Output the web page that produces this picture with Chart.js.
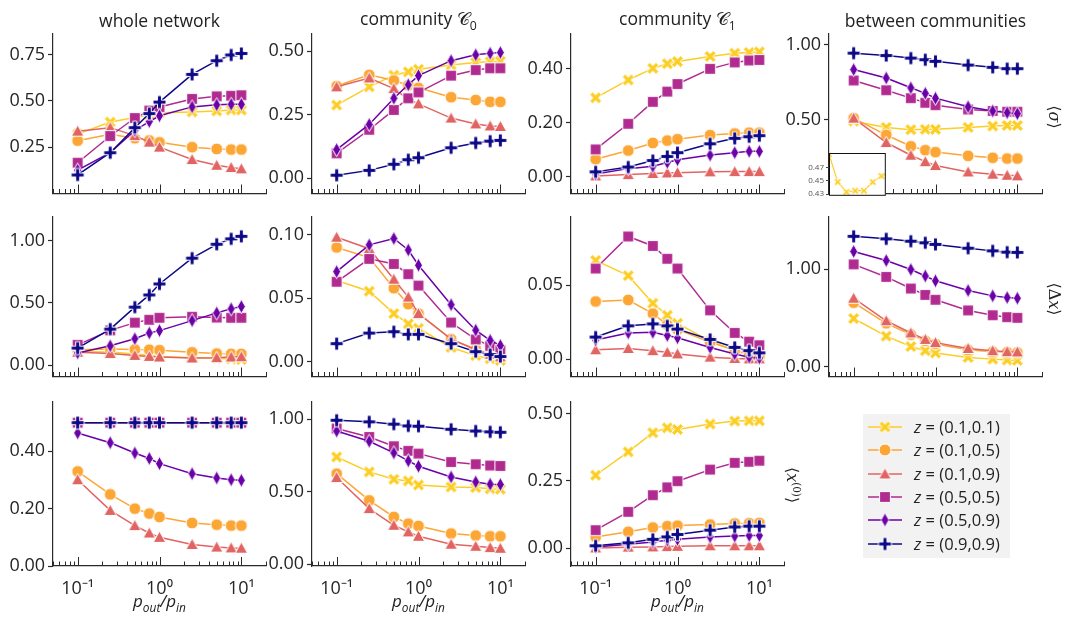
<!DOCTYPE html>
<html>
<head>
<meta charset="utf-8">
<script src="https://cdn.jsdelivr.net/npm/chart.js@4"></script>
<style>
  body { margin: 0; background: #fff; }
  #fig { position: relative; width: 1067px; height: 617px; overflow: hidden; font-family: 'Open Sans', sans-serif; color: #222; }
  #fig canvas { position: absolute; }
  .txt { position: absolute; white-space: nowrap; transform: translate(-50%, -50%); line-height: 1; }
  .title { font-size: 17.5px; }
  .xlab { font-size: 17px; font-style: italic; }
  .xlab sub { font-size: 70%; }
  .ylab { font-family: 'DejaVu Serif', serif; font-size: 16px; transform: translate(-50%, -50%) rotate(90deg); }
  .ylab sup { font-size: 65%; }
  .cal { font-family: 'DejaVu Sans', serif; }
  .title sub { font-size: 70%; }
  #legend { position: absolute; left: 863px; top: 414px; width: 147px; height: 144px; background: #f2f2f2; }
  #legend .row { position: absolute; left: 0; height: 20px; width: 147px; }
  #legend .row canvas { position: absolute; left: 5px; top: 0; }
  #legend .row span { position: absolute; left: 51px; top: 0; font-size: 16.5px; line-height: 20px; white-space: nowrap; }
</style>
</head>
<body>
<div id="fig"></div>
<script>
// x values (p_out / p_in) shared by every panel
const X = [0.1, 0.25, 0.5, 0.75, 1, 2.5, 5, 7.5, 10];

const seriesLabels = ['(0.1,0.1)', '(0.1,0.5)', '(0.1,0.9)', '(0.5,0.5)', '(0.5,0.9)', '(0.9,0.9)'];
const seriesColors = ['#fcce25', '#fca636', '#e16462', '#b12a90', '#6a00a8', '#0d0887'];
const seriesMarkers = ['x', 'o', '^', 's', 'd', 'P'];

const xMajor = [0.1, 1, 10];
const xTickLabels = ['10⁻¹', '10⁰', '10¹'];

// <sigma>
const sigmaWhole = [
  [0.32, 0.385, 0.41, 0.425, 0.435, 0.44, 0.445, 0.45, 0.45],
  [0.285, 0.32, 0.298, 0.286, 0.276, 0.25, 0.24, 0.237, 0.237],
  [0.336, 0.355, 0.312, 0.277, 0.25, 0.183, 0.152, 0.14, 0.133],
  [0.166, 0.31, 0.407, 0.447, 0.466, 0.51, 0.524, 0.527, 0.53],
  [0.126, 0.22, 0.34, 0.388, 0.419, 0.467, 0.478, 0.481, 0.481],
  [0.10, 0.22, 0.355, 0.431, 0.493, 0.642, 0.716, 0.747, 0.755]
];
const sigmaC0 = [
  [0.287, 0.359, 0.405, 0.418, 0.428, 0.445, 0.455, 0.458, 0.46],
  [0.362, 0.406, 0.384, 0.365, 0.355, 0.318, 0.307, 0.30, 0.30],
  [0.359, 0.394, 0.352, 0.31, 0.292, 0.236, 0.213, 0.205, 0.203],
  [0.097, 0.19, 0.268, 0.314, 0.337, 0.403, 0.425, 0.432, 0.432],
  [0.112, 0.211, 0.314, 0.367, 0.403, 0.462, 0.485, 0.491, 0.494],
  [0.011, 0.03, 0.054, 0.072, 0.08, 0.119, 0.138, 0.145, 0.148]
];
const sigmaC1 = [
  [0.292, 0.358, 0.401, 0.418, 0.426, 0.445, 0.457, 0.46, 0.462],
  [0.065, 0.097, 0.125, 0.134, 0.139, 0.154, 0.16, 0.163, 0.163],
  [0.003, 0.008, 0.012, 0.014, 0.015, 0.018, 0.019, 0.019, 0.019],
  [0.101, 0.196, 0.277, 0.315, 0.343, 0.399, 0.423, 0.43, 0.432],
  [0.01, 0.03, 0.039, 0.053, 0.063, 0.08, 0.089, 0.094, 0.094],
  [0.018, 0.036, 0.06, 0.075, 0.089, 0.122, 0.142, 0.148, 0.152]
];
const sigmaBetween = [
  [0.49, 0.448, 0.433, 0.435, 0.435, 0.448, 0.457, 0.461, 0.461],
  [0.51, 0.397, 0.322, 0.296, 0.283, 0.258, 0.245, 0.24, 0.24],
  [0.51, 0.347, 0.262, 0.219, 0.193, 0.15, 0.135, 0.128, 0.124],
  [0.762, 0.697, 0.644, 0.613, 0.597, 0.568, 0.558, 0.553, 0.553],
  [0.835, 0.779, 0.713, 0.676, 0.644, 0.586, 0.558, 0.547, 0.54],
  [0.945, 0.929, 0.912, 0.901, 0.89, 0.865, 0.85, 0.841, 0.841]
];

// <delta x>
const dxWhole = [
  [0.11, 0.105, 0.09, 0.08, 0.07, 0.06, 0.055, 0.05, 0.045],
  [0.124, 0.13, 0.126, 0.124, 0.12, 0.103, 0.093, 0.09, 0.09],
  [0.103, 0.093, 0.078, 0.07, 0.065, 0.057, 0.06, 0.065, 0.067],
  [0.163, 0.279, 0.341, 0.364, 0.38, 0.388, 0.382, 0.38, 0.38],
  [0.098, 0.155, 0.212, 0.258, 0.277, 0.357, 0.419, 0.452, 0.47],
  [0.137, 0.289, 0.465, 0.563, 0.651, 0.858, 0.969, 1.013, 1.033]
];
const dxC0 = [
  [0.064, 0.0556, 0.038, 0.03, 0.0265, 0.0114, 0.005, 0.0025, 0.0012],
  [0.09, 0.082, 0.058, 0.0455, 0.038, 0.018, 0.01, 0.006, 0.005],
  [0.098, 0.089, 0.065, 0.051, 0.038, 0.018, 0.0096, 0.006, 0.004],
  [0.063, 0.081, 0.077, 0.069, 0.06, 0.031, 0.0177, 0.0127, 0.0094],
  [0.071, 0.092, 0.097, 0.088, 0.076, 0.045, 0.025, 0.017, 0.013],
  [0.0144, 0.0227, 0.0238, 0.0217, 0.0217, 0.0144, 0.0081, 0.0058, 0.0043]
];
const dxC1 = [
  [0.0668, 0.0565, 0.0378, 0.0297, 0.0242, 0.0122, 0.0057, 0.003, 0.0013],
  [0.039, 0.04, 0.0308, 0.0232, 0.02, 0.0115, 0.006, 0.003, 0.002],
  [0.0063, 0.0072, 0.0057, 0.0046, 0.0035, 0.0013, 0.0004, 0.0001, 0.0001],
  [0.0613, 0.083, 0.0766, 0.0679, 0.0613, 0.033, 0.0177, 0.0118, 0.0094],
  [0.0129, 0.0177, 0.0181, 0.016, 0.0144, 0.0079, 0.0035, 0.0013, 0.0007],
  [0.0149, 0.0225, 0.0238, 0.0225, 0.0203, 0.0133, 0.0079, 0.0057, 0.0042]
];
const dxBetween = [
  [0.495, 0.314, 0.208, 0.165, 0.142, 0.096, 0.079, 0.069, 0.066],
  [0.657, 0.446, 0.33, 0.267, 0.234, 0.175, 0.155, 0.149, 0.146],
  [0.703, 0.472, 0.347, 0.281, 0.248, 0.188, 0.165, 0.155, 0.152],
  [1.05, 0.921, 0.802, 0.737, 0.687, 0.578, 0.529, 0.509, 0.502],
  [1.182, 1.089, 0.997, 0.931, 0.881, 0.782, 0.727, 0.71, 0.703],
  [1.337, 1.311, 1.287, 1.271, 1.254, 1.215, 1.188, 1.175, 1.172]
];

// <x^(0)>
const x0Whole = [
  [0.5, 0.5, 0.5, 0.5, 0.5, 0.5, 0.5, 0.5, 0.5],
  [0.33, 0.25, 0.2, 0.183, 0.171, 0.15, 0.144, 0.141, 0.141],
  [0.301, 0.194, 0.141, 0.115, 0.1, 0.075, 0.066, 0.063, 0.062],
  [0.5, 0.5, 0.5, 0.5, 0.5, 0.5, 0.5, 0.5, 0.5],
  [0.464, 0.43, 0.394, 0.375, 0.357, 0.322, 0.307, 0.301, 0.299],
  [0.5, 0.5, 0.5, 0.5, 0.5, 0.5, 0.5, 0.5, 0.5]
];
const x0C0 = [
  [0.74, 0.637, 0.586, 0.575, 0.547, 0.533, 0.529, 0.52, 0.517],
  [0.625, 0.441, 0.326, 0.28, 0.264, 0.212, 0.198, 0.193, 0.193],
  [0.598, 0.384, 0.269, 0.223, 0.193, 0.138, 0.124, 0.115, 0.11],
  [0.936, 0.878, 0.814, 0.782, 0.763, 0.705, 0.69, 0.681, 0.678],
  [0.919, 0.848, 0.768, 0.713, 0.676, 0.602, 0.568, 0.552, 0.55],
  [0.993, 0.982, 0.966, 0.954, 0.952, 0.931, 0.919, 0.913, 0.91]
];
const x0C1 = [
  [0.271, 0.358, 0.429, 0.447, 0.441, 0.461, 0.472, 0.473, 0.473],
  [0.042, 0.061, 0.077, 0.082, 0.084, 0.088, 0.092, 0.093, 0.094],
  [0.001, 0.004, 0.005, 0.006, 0.007, 0.009, 0.009, 0.009, 0.009],
  [0.067, 0.135, 0.197, 0.226, 0.249, 0.292, 0.317, 0.321, 0.325],
  [0.005, 0.015, 0.023, 0.03, 0.033, 0.042, 0.045, 0.047, 0.047],
  [0.009, 0.02, 0.033, 0.042, 0.051, 0.067, 0.079, 0.082, 0.082]
];

// y tick values per panel
const ticksSigmaWhole = [0.25, 0.5, 0.75];
const ticksSigmaC0 = [0, 0.25, 0.5];
const ticksSigmaC1 = [0, 0.2, 0.4];
const ticksSigmaBetween = [0.5, 1];
const ticksDxWhole = [0, 0.5, 1];
const ticksDxC0 = [0, 0.05, 0.1];
const ticksDxC1 = [0, 0.05];
const ticksDxBetween = [0, 1];
const ticksX0Whole = [0, 0.2, 0.4];
const ticksX0C0 = [0, 0.5, 1];
const ticksX0C1 = [0, 0.25, 0.5];
const ticksInset = [0.43, 0.45, 0.47];

// layout (pixels)
const colLeft = [53, 312, 571, 829];
const rowTop = [34, 217, 402];
const rowH = [165, 165, 164];
const xAxisH = [2, 2, 34];
const PLOT_W = 213, Y_W = 53, PAD_T = 10, PAD_R = 14;
const AX = '#2a2a2a', TXT = '#262626';

Chart.defaults.font.family = "'Open Sans', sans-serif";

const fig = document.getElementById('fig');

function marker(shape, color, s) {
  const size = Math.ceil(s + 4);
  const c = document.createElement('canvas');
  c.width = c.height = size;
  const g = c.getContext('2d');
  const m = size / 2, r = s / 2;
  g.beginPath();
  if (shape === 'o') {
    g.arc(m, m, r, 0, 2 * Math.PI);
  } else if (shape === 's') {
    g.rect(m - r * 0.9, m - r * 0.9, 1.8 * r, 1.8 * r);
  } else if (shape === '^') {
    g.moveTo(m, m - r); g.lineTo(m + r, m + r * 0.8); g.lineTo(m - r, m + r * 0.8); g.closePath();
  } else if (shape === 'd') {
    g.moveTo(m, m - r * 1.1); g.lineTo(m + r * 0.62, m); g.lineTo(m, m + r * 1.1); g.lineTo(m - r * 0.62, m); g.closePath();
  } else {
    const t = r * 0.3;
    const pts = [[-t,-r],[t,-r],[t,-t],[r,-t],[r,t],[t,t],[t,r],[-t,r],[-t,t],[-r,t],[-r,-t],[-t,-t]];
    const a = shape === 'x' ? Math.PI / 4 : 0;
    pts.forEach(([px, py], i) => {
      const x = m + px * Math.cos(a) - py * Math.sin(a);
      const y = m + px * Math.sin(a) + py * Math.cos(a);
      i ? g.lineTo(x, y) : g.moveTo(x, y);
    });
    g.closePath();
  }
  g.fillStyle = color; g.fill();
  g.lineWidth = 1; g.strokeStyle = '#fff'; g.stroke();
  return c;
}

const markerSize = {x: 13, o: 12, '^': 12.5, s: 12, d: 13, P: 13};
const markerImgs = seriesMarkers.map((m, i) => marker(m, seriesColors[i], markerSize[m]));

// log-scale minor tick positions between 0.05 and 20
const xTickPos = [];
[-2, -1, 0, 1].forEach(e => {
  for (let k = 1; k <= 9; k++) {
    const v = parseFloat((k * Math.pow(10, e)).toPrecision(3));
    if (v >= 0.05 && v <= 20) xTickPos.push(v);
  }
});

// ticks pointing into the plot on the bottom axis
const inTicks = {
  id: 'inTicks',
  afterDraw(chart) {
    const s = chart.scales.x, ctx = chart.ctx, b = chart.chartArea.bottom;
    ctx.save();
    ctx.strokeStyle = AX; ctx.lineWidth = 1;
    xTickPos.forEach(v => {
      const px = Math.round(s.getPixelForValue(v)) + 0.5;
      const len = xMajor.includes(v) ? 9 : 4.5;
      ctx.beginPath(); ctx.moveTo(px, b); ctx.lineTo(px, b - len); ctx.stroke();
    });
    ctx.restore();
  }
};

function zeroPad(s) { s.paddingLeft = s.paddingRight = s.paddingTop = s.paddingBottom = 0; }

const panels = [
  {vals: sigmaWhole, r: 0, c: 0, min: 0, max: 0.86, ticks: ticksSigmaWhole},
  {vals: sigmaC0, r: 0, c: 1, min: -0.061, max: 0.567, ticks: ticksSigmaC0},
  {vals: sigmaC1, r: 0, c: 2, min: -0.062, max: 0.528, ticks: ticksSigmaC1},
  {vals: sigmaBetween, r: 0, c: 3, min: 0.006, max: 1.073, ticks: ticksSigmaBetween},
  {vals: dxWhole, r: 1, c: 0, min: -0.091, max: 1.188, ticks: ticksDxWhole},
  {vals: dxC0, r: 1, c: 1, min: -0.0114, max: 0.1139, ticks: ticksDxC0},
  {vals: dxC1, r: 1, c: 2, min: -0.0118, max: 0.0962, ticks: ticksDxC1},
  {vals: dxBetween, r: 1, c: 3, min: -0.099, max: 1.535, ticks: ticksDxBetween},
  {vals: x0Whole, r: 2, c: 0, min: 0, max: 0.572, ticks: ticksX0Whole},
  {vals: x0C0, r: 2, c: 1, min: -0.012, max: 1.119, ticks: ticksX0C0},
  {vals: x0C1, r: 2, c: 2, min: -0.066, max: 0.543, ticks: ticksX0C1}
];

function makePanel(p) {
  const cv = document.createElement('canvas');
  cv.width = Y_W + PLOT_W + PAD_R;
  cv.height = PAD_T + rowH[p.r] + xAxisH[p.r];
  cv.style.left = (colLeft[p.c] - Y_W) + 'px';
  cv.style.top = (rowTop[p.r] - PAD_T) + 'px';
  fig.appendChild(cv);

  const datasets = p.vals.map((vals, i) => ({
    label: 'z = ' + seriesLabels[i],
    data: vals.map((v, k) => ({x: X[k], y: v})),
    borderColor: seriesColors[i],
    backgroundColor: seriesColors[i],
    borderWidth: 1.5,
    pointStyle: markerImgs[i],
    pointRadius: 6,
    order: 5 - i,
    clip: false
  }));

  new Chart(cv, {
    type: 'line',
    data: {datasets},
    options: {
      responsive: false,
      animation: false,
      devicePixelRatio: 1,
      layout: {padding: {top: PAD_T, right: PAD_R, bottom: 0, left: 0}},
      plugins: {legend: {display: false}, tooltip: {enabled: false}},
      scales: {
        x: {
          type: 'logarithmic', min: 0.05, max: 20,
          grid: {display: false},
          border: {display: true, color: AX, width: 1.2},
          ticks: {
            display: p.r === 2, autoSkip: false, maxRotation: 0, padding: 4,
            color: TXT, font: {size: 18},
            callback: v => { const i = xMajor.indexOf(v); return i >= 0 ? xTickLabels[i] : ''; }
          },
          afterBuildTicks: s => { s.ticks = xMajor.map(v => ({value: v})); },
          afterFit: s => { s.height = xAxisH[p.r]; zeroPad(s); }
        },
        y: {
          min: p.min, max: p.max,
          grid: {drawOnChartArea: false, tickLength: 5, tickColor: AX, tickWidth: 1.2},
          border: {display: true, color: AX, width: 1.2},
          ticks: {padding: 3, color: TXT, font: {size: 18}, callback: v => v.toFixed(2)},
          afterBuildTicks: s => { s.ticks = p.ticks.map(v => ({value: v})); },
          afterFit: s => { s.width = Y_W; zeroPad(s); }
        }
      }
    },
    plugins: [inTicks]
  });
}

panels.forEach(makePanel);

// inset: zoom on the z=(0.1,0.1) series of the "between communities" sigma panel
(function () {
  const L = 829, T = 153, W = 60, H = 46, YW = 32, PT = 6;
  const cv = document.createElement('canvas');
  cv.width = YW + W + 2; cv.height = PT + H + 2;
  cv.style.left = (L - YW) + 'px'; cv.style.top = (T - PT) + 'px';
  fig.appendChild(cv);
  const frame = {
    id: 'frame',
    beforeDatasetsDraw(chart) {
      const a = chart.chartArea, ctx = chart.ctx;
      ctx.save(); ctx.fillStyle = '#fff'; ctx.fillRect(a.left, a.top, a.right - a.left, a.bottom - a.top); ctx.restore();
    },
    afterDraw(chart) {
      const a = chart.chartArea, ctx = chart.ctx;
      ctx.save(); ctx.strokeStyle = '#111'; ctx.lineWidth = 1;
      ctx.strokeRect(a.left + 0.5, a.top + 0.5, a.right - a.left - 1, a.bottom - a.top - 1); ctx.restore();
    }
  };
  new Chart(cv, {
    type: 'line',
    data: {datasets: [{
      data: sigmaBetween[0].map((v, k) => ({x: k, y: v})),
      borderColor: seriesColors[0], borderWidth: 1.2,
      pointStyle: marker('x', seriesColors[0], 8), pointRadius: 4
    }]},
    options: {
      responsive: false, animation: false, devicePixelRatio: 1,
      layout: {padding: {top: PT, right: 2, bottom: 2, left: 0}},
      plugins: {legend: {display: false}, tooltip: {enabled: false}},
      scales: {
        x: {type: 'linear', display: false, min: 0, max: 6.5},
        y: {
          min: 0.4273, max: 0.4918,
          grid: {drawOnChartArea: false, tickLength: 3, tickColor: '#444'},
          border: {display: false},
          ticks: {padding: 2, color: '#555', font: {size: 8}, callback: v => v.toFixed(2)},
          afterBuildTicks: s => { s.ticks = ticksInset.map(v => ({value: v})); },
          afterFit: s => { s.width = YW; zeroPad(s); }
        }
      }
    },
    plugins: [frame]
  });
})();

// text: column titles, axis labels
function addText(cls, html, x, y) {
  const d = document.createElement('div');
  d.className = 'txt ' + cls;
  d.innerHTML = html;
  d.style.left = x + 'px'; d.style.top = y + 'px';
  fig.appendChild(d);
}
const colTitles = ['whole network', 'community <span class="cal">𝒞</span><sub>0</sub>',
  'community <span class="cal">𝒞</span><sub>1</sub>', 'between communities'];
colTitles.forEach((t, c) => addText('title', t, colLeft[c] + PLOT_W / 2, 21));
[0, 1, 2].forEach(c => addText('xlab', 'p<sub>out</sub>/p<sub>in</sub>', colLeft[c] + PLOT_W / 2, 603));
addText('ylab', '⟨<i>σ</i>⟩', 1054, 117);
addText('ylab', '⟨Δ<i>x</i>⟩', 1054, 299);
addText('ylab', '⟨<i>x</i><sup>(0)</sup>⟩', 793, 485);

// legend
const leg = document.createElement('div');
leg.id = 'legend';
fig.appendChild(leg);
seriesLabels.forEach((lab, i) => {
  const row = document.createElement('div');
  row.className = 'row';
  row.style.top = (3 + i * 23.3) + 'px';
  const c = document.createElement('canvas');
  c.width = 34; c.height = 20;
  const g = c.getContext('2d');
  g.strokeStyle = seriesColors[i]; g.lineWidth = 1.5;
  g.beginPath(); g.moveTo(0, 10); g.lineTo(34, 10); g.stroke();
  const im = markerImgs[i];
  g.drawImage(im, 17 - im.width / 2, 10 - im.height / 2);
  row.appendChild(c);
  const sp = document.createElement('span');
  sp.innerHTML = '<i>z</i> = ' + lab;
  row.appendChild(sp);
  leg.appendChild(row);
});
</script>
</body>
</html>
